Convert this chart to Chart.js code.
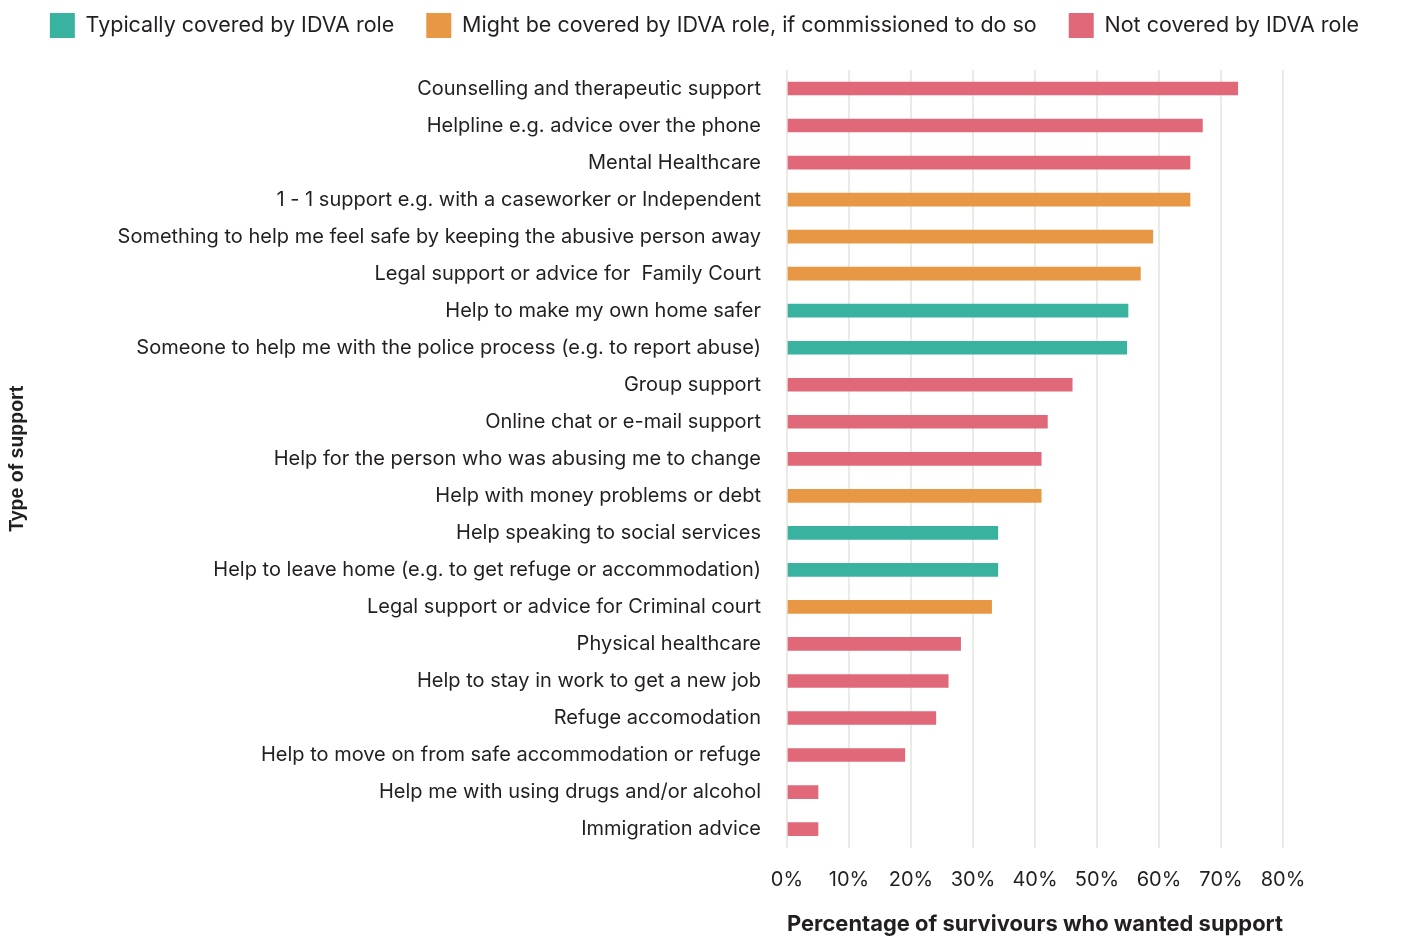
<!DOCTYPE html>
<html>
<head>
<meta charset="utf-8">
<script src="https://cdn.jsdelivr.net/npm/chart.js@4"></script>
<style>
  body { margin: 0; background: #fff; }
  #wrap { width: 1403px; height: 938px; }
</style>
</head>
<body>
<div id="wrap"><canvas id="chart"></canvas></div>
<script>
// Types of support, top to bottom
const categories = [
  'Counselling and therapeutic support',
  'Helpline e.g. advice over the phone',
  'Mental Healthcare',
  '1 - 1 support e.g. with a caseworker or Independent',
  'Something to help me feel safe by keeping the abusive person away',
  'Legal support or advice for  Family Court',
  'Help to make my own home safer',
  'Someone to help me with the police process (e.g. to report abuse)',
  'Group support',
  'Online chat or e-mail support',
  'Help for the person who was abusing me to change',
  'Help with money problems or debt',
  'Help speaking to social services',
  'Help to leave home (e.g. to get refuge or accommodation)',
  'Legal support or advice for Criminal court',
  'Physical healthcare',
  'Help to stay in work to get a new job',
  'Refuge accomodation',
  'Help to move on from safe accommodation or refuge',
  'Help me with using drugs and/or alcohol',
  'Immigration advice'
];

// % of survivours who wanted support
const values = [72.7, 67, 65, 65, 59, 57, 55, 54.8, 46, 42, 41, 41, 34, 34, 33, 28, 26, 24, 19, 5, 5];

// 0 = typically covered, 1 = might be covered, 2 = not covered
const groups = [2, 2, 2, 1, 1, 1, 0, 0, 2, 2, 2, 1, 0, 0, 1, 2, 2, 2, 2, 2, 2];

const groupNames = [
  'Typically covered by IDVA role',
  'Might be covered by IDVA role, if commissioned to do so',
  'Not covered by IDVA role'
];
const groupColors = ['#3ab2a0', '#e89844', '#e06878'];

const xTicks = [0, 10, 20, 30, 40, 50, 60, 70, 80];

const mainFont = "'Inter', 'Noto Sans', sans-serif";

const datasets = groupNames.map((name, g) => ({
  label: name,
  data: values.map((v, i) => (groups[i] === g ? v : null)),
  backgroundColor: groupColors[g],
  borderWidth: 0,
  barThickness: 13
}));

// extra room under the legend
const legendGap = {
  id: 'legendGap',
  beforeInit(chart) {
    const origFit = chart.legend.fit;
    chart.legend.fit = function () {
      origFit.call(this);
      this.height += 22;
    };
  }
};

const ctx = document.getElementById('chart').getContext('2d');
new Chart(ctx, {
  type: 'bar',
  data: { labels: categories, datasets: datasets },
  plugins: [legendGap],
  options: {
    indexAxis: 'y',
    responsive: true,
    maintainAspectRatio: false,
    animation: false,
    layout: { padding: { left: 6, right: 0, top: -19, bottom: 0 } },
    plugins: {
      legend: {
        position: 'top',
        labels: {
          boxWidth: 25,
          boxHeight: 25,
          padding: 32,
          color: '#231f20',
          font: { family: mainFont, size: 21.5 }
        }
      },
      tooltip: { enabled: false }
    },
    scales: {
      x: {
        stacked: true,
        min: 0,
        max: 80,
        afterBuildTicks: axis => { axis.ticks = xTicks.map(v => ({ value: v })); },
        afterFit: axis => { axis.paddingRight = 120; },
        grid: { color: '#ebebe6', lineWidth: 2, drawTicks: false },
        border: { display: false },
        ticks: {
          padding: 20,
          color: '#231f20',
          font: { family: mainFont, size: 20 },
          callback: v => v + '%'
        },
        title: {
          display: true,
          text: 'Percentage of survivours who wanted support',
          color: '#231f20',
          padding: { top: 0, bottom: 0 },
          font: { family: mainFont, size: 22, weight: 'bold' }
        }
      },
      y: {
        stacked: true,
        afterFit: axis => { axis.width = 781; },
        grid: { display: false, drawTicks: false },
        border: { display: false },
        ticks: {
          padding: 26,
          autoSkip: false,
          color: '#231f20',
          font: { family: mainFont, size: 20 }
        },
        title: {
          display: true,
          text: 'Type of support',
          color: '#231f20',
          padding: { top: 0, bottom: 0 },
          font: { family: "'Liberation Sans', Arial, sans-serif", size: 19.5, weight: 'bold' }
        }
      }
    }
  }
});
</script>
</body>
</html>
